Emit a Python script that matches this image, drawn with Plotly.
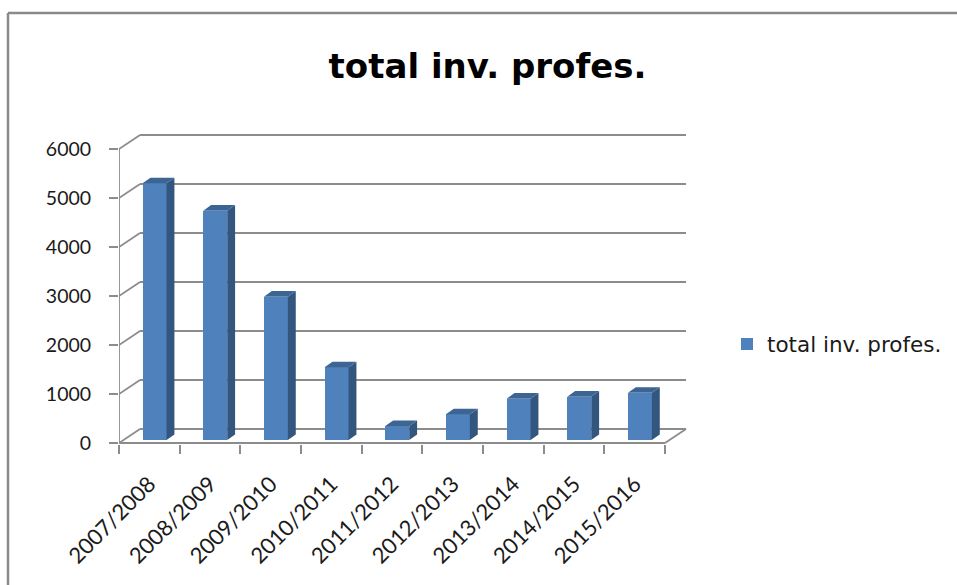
import plotly.graph_objects as go

# ---- data -----------------------------------------------------------------
seasons = ["2007/2008", "2008/2009", "2009/2010", "2010/2011", "2011/2012",
           "2012/2013", "2013/2014", "2014/2015", "2015/2016"]
professors = [5240, 4680, 2925, 1485, 285, 525, 845, 885, 965]
y_ticks = [0, 1000, 2000, 3000, 4000, 5000, 6000]
series_name = "total inv. profes."
chart_title = "total inv. profes."

# ---- page geometry (pixels) -----------------------------------------------
W_PX, H_PX = 957, 585
M_L, M_R, M_T, M_B = 119, 265, 129, 141
plot_w = W_PX - M_L - M_R
plot_h = H_PX - M_T - M_B
px_per_cat = 60.67          # width of one category slot
px_per_unit = 0.049         # pixels per value unit

x_range = [0, plot_w / px_per_cat]
y_lo = -20
y_range = [y_lo, y_lo + plot_h / px_per_unit]

# oblique depth of the chart box (back wall offset)
wall_dx = 21 / px_per_cat
wall_dy = 14 / px_per_unit
# bar placement inside the box
bar_w = 0.395
bar_shift = 0.086
bar_base = 60
bar_dx = 0.13
bar_dy = 115

FRONT = "#4F81BD"
SIDE = "#33567F"
TOP = "#3C6594"
GRID = "#8C8C8C"
FONT = "Lato"
WIDE_FONT = "DejaVu Sans"
TEXT = "#1a1a1a"

n = len(seasons)
centers = [i + 0.5 for i in range(n)]
bar_x = [c + bar_shift for c in centers]


def px_x(px):
    return (px - M_L) / plot_w


def px_y(py):
    return (H_PX - M_B - py) / plot_h


fig = go.Figure()

# front faces of the columns
fig.add_trace(go.Bar(
    x=bar_x, y=professors, base=[bar_base] * n, width=bar_w,
    marker=dict(color=FRONT, line=dict(width=0)),
    name=series_name, showlegend=True, hoverinfo="skip",
))

# right-hand side faces and top faces, built from the same values
side_x, side_y, top_x, top_y = [], [], [], []
for xc, v in zip(bar_x, professors):
    xl, xr = xc - bar_w / 2, xc + bar_w / 2
    b0, b1 = bar_base, bar_base + v
    side_x += [xr, xr + bar_dx, xr + bar_dx, xr, xr, None]
    side_y += [b0, b0 + bar_dy, b1 + bar_dy, b1, b0, None]
    top_x += [xl, xr, xr + bar_dx, xl + bar_dx, xl, None]
    top_y += [b1, b1, b1 + bar_dy, b1 + bar_dy, b1, None]

fig.add_trace(go.Scatter(x=side_x, y=side_y, mode="lines", fill="toself",
                         fillcolor=SIDE, line=dict(width=0, color=SIDE),
                         showlegend=False, hoverinfo="skip"))
fig.add_trace(go.Scatter(x=top_x, y=top_y, mode="lines", fill="toself",
                         fillcolor=TOP, line=dict(width=0, color=TOP),
                         showlegend=False, hoverinfo="skip"))

# walls, floor and the front value axis line (behind the columns)
shapes = []
line_style = dict(color=GRID, width=1.8)
for v in y_ticks:
    shapes.append(dict(type="line", xref="x", yref="y", layer="below",
                       x0=wall_dx, x1=n + wall_dx, y0=v + wall_dy, y1=v + wall_dy,
                       line=line_style))
    shapes.append(dict(type="line", xref="x", yref="y", layer="below",
                       x0=0, x1=wall_dx, y0=v, y1=v + wall_dy, line=line_style))
shapes.append(dict(type="line", xref="x", yref="y", layer="below",
                   x0=0, x1=n, y0=0, y1=0, line=line_style))
shapes.append(dict(type="line", xref="x", yref="y", layer="below",
                   x0=n, x1=n + wall_dx, y0=0, y1=wall_dy, line=line_style))
shapes.append(dict(type="line", xref="x", yref="y", layer="below",
                   x0=0, x1=0, y0=0, y1=y_ticks[-1], line=line_style))

# chart frame
frame = dict(color="#8A8A8A", width=2.5)
shapes.append(dict(type="line", xref="paper", yref="paper", layer="above",
                   x0=px_x(8), x1=px_x(8), y0=px_y(13), y1=px_y(H_PX + 5), line=frame))
shapes.append(dict(type="line", xref="paper", yref="paper", layer="above",
                   x0=px_x(8), x1=px_x(W_PX + 5), y0=px_y(13), y1=px_y(13), line=frame))

fig.update_layout(
    width=W_PX, height=H_PX,
    margin=dict(l=M_L, r=M_R, t=M_T, b=M_B, autoexpand=False),
    paper_bgcolor="white", plot_bgcolor="white",
    font=dict(family=FONT, color=TEXT, size=19.5),
    title=dict(text="<b>" + chart_title + "</b>",
               font=dict(family=WIDE_FONT, size=34, color="#000"),
               x=487.5 / W_PX, xref="container", xanchor="center",
               y=1 - 66 / H_PX, yref="container", yanchor="middle"),
    showlegend=True,
    legend=dict(x=px_x(727), xanchor="left", y=px_y(344), yanchor="middle",
                font=dict(family=WIDE_FONT, size=21.5, color=TEXT),
                bgcolor="rgba(0,0,0,0)", borderwidth=0),
    shapes=shapes,
    bargap=0,
)

fig.update_xaxes(
    range=x_range, showgrid=False, zeroline=False, showline=False,
    tickmode="array", tickvals=centers, ticktext=seasons, ticks="",
    tickangle=-45, ticklabelstandoff=22,
    tickfont=dict(family=FONT, size=22, color=TEXT),
    minor=dict(tickmode="array", tickvals=list(range(n + 1)), ticks="outside",
               ticklen=9, tickwidth=2, tickcolor=GRID, showgrid=False),
    fixedrange=True,
)
fig.update_yaxes(
    range=y_range, showgrid=False, zeroline=False, showline=False,
    tickmode="array", tickvals=y_ticks, ticktext=[str(v) for v in y_ticks],
    ticks="outside", ticklen=9, tickwidth=2, tickcolor=GRID,
    ticklabelstandoff=14,
    tickfont=dict(family=FONT, size=19.5, color=TEXT),
    fixedrange=True,
)

fig.write_html("out.html")
